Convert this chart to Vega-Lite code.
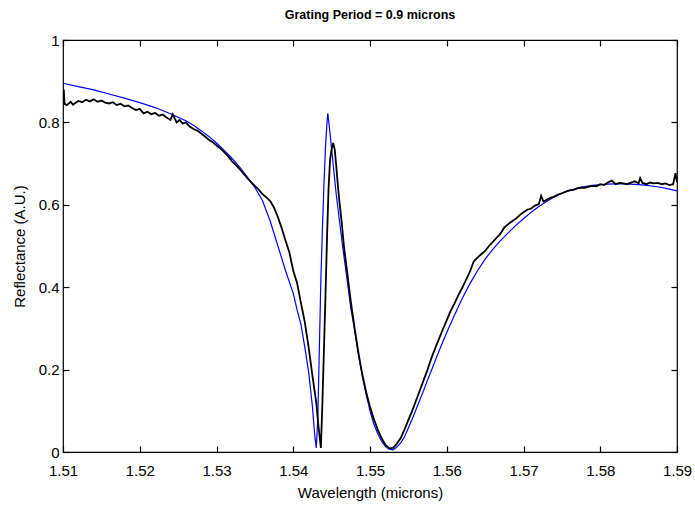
{
  "$schema": "https://vega.github.io/schema/vega-lite/v6.json",
  "width": 614,
  "height": 412,
  "autosize": {"type": "none"},
  "padding": {"left": 63, "top": 40, "right": 18, "bottom": 60},
  "background": "white",
  "config": {
    "view": {"stroke": "black", "strokeWidth": 1.2},
    "font": "Liberation Sans",
    "axis": {
      "grid": false,
      "domain": false,
      "ticks": true,
      "tickColor": "black",
      "tickWidth": 1.2,
      "tickSize": 6,
      "offset": -6,
      "labelFlush": false,
      "labelOverlap": false,
      "labelColor": "black",
      "labelFont": "Liberation Sans",
      "labelFontSize": 15,
      "titleFont": "Liberation Sans",
      "titleFontSize": 15,
      "titleFontWeight": "normal",
      "titleColor": "black",
      "zindex": 1
    }
  },
  "title": {
    "text": "Grating Period = 0.9 microns",
    "font": "Liberation Sans",
    "fontSize": 12.5,
    "fontWeight": "bold",
    "color": "black",
    "anchor": "middle",
    "baseline": "alphabetic",
    "offset": 2
  },
  "datasets": {
    "sim": [
      {"x": 1.51, "y": 0.895}, {"x": 1.512, "y": 0.887}, {"x": 1.514, "y": 0.879}, {"x": 1.516, "y": 0.869},
      {"x": 1.518, "y": 0.859}, {"x": 1.52, "y": 0.848}, {"x": 1.522, "y": 0.836}, {"x": 1.524, "y": 0.821},
      {"x": 1.526, "y": 0.804}, {"x": 1.527, "y": 0.793}, {"x": 1.528, "y": 0.78}, {"x": 1.529, "y": 0.766},
      {"x": 1.53, "y": 0.75}, {"x": 1.531, "y": 0.732}, {"x": 1.532, "y": 0.713}, {"x": 1.533, "y": 0.692},
      {"x": 1.534, "y": 0.668}, {"x": 1.535, "y": 0.642}, {"x": 1.536, "y": 0.61}, {"x": 1.537, "y": 0.56},
      {"x": 1.538, "y": 0.5}, {"x": 1.539, "y": 0.44}, {"x": 1.54, "y": 0.385}, {"x": 1.5405, "y": 0.345},
      {"x": 1.541, "y": 0.31}, {"x": 1.5415, "y": 0.255}, {"x": 1.542, "y": 0.195}, {"x": 1.5425, "y": 0.11},
      {"x": 1.5428, "y": 0.04}, {"x": 1.543, "y": 0.01}, {"x": 1.5432, "y": 0.08}, {"x": 1.5434, "y": 0.25},
      {"x": 1.5436, "y": 0.42}, {"x": 1.5438, "y": 0.54}, {"x": 1.544, "y": 0.65}, {"x": 1.5442, "y": 0.74},
      {"x": 1.5444, "y": 0.8}, {"x": 1.5445, "y": 0.822}, {"x": 1.5447, "y": 0.79}, {"x": 1.545, "y": 0.735},
      {"x": 1.5453, "y": 0.68}, {"x": 1.5456, "y": 0.625}, {"x": 1.546, "y": 0.565}, {"x": 1.5465, "y": 0.49},
      {"x": 1.547, "y": 0.42}, {"x": 1.5475, "y": 0.35}, {"x": 1.548, "y": 0.295}, {"x": 1.5485, "y": 0.235},
      {"x": 1.549, "y": 0.185}, {"x": 1.5495, "y": 0.14}, {"x": 1.55, "y": 0.1}, {"x": 1.5505, "y": 0.068},
      {"x": 1.551, "y": 0.045}, {"x": 1.5515, "y": 0.026}, {"x": 1.552, "y": 0.014}, {"x": 1.5525, "y": 0.007},
      {"x": 1.553, "y": 0.005}, {"x": 1.5535, "y": 0.012}, {"x": 1.554, "y": 0.022}, {"x": 1.5545, "y": 0.037},
      {"x": 1.555, "y": 0.058}, {"x": 1.5555, "y": 0.08}, {"x": 1.556, "y": 0.103}, {"x": 1.5565, "y": 0.127},
      {"x": 1.557, "y": 0.15}, {"x": 1.5575, "y": 0.175}, {"x": 1.558, "y": 0.198}, {"x": 1.5585, "y": 0.222},
      {"x": 1.559, "y": 0.245}, {"x": 1.5595, "y": 0.268}, {"x": 1.56, "y": 0.29}, {"x": 1.561, "y": 0.332},
      {"x": 1.562, "y": 0.372}, {"x": 1.563, "y": 0.408}, {"x": 1.564, "y": 0.44}, {"x": 1.565, "y": 0.468},
      {"x": 1.566, "y": 0.492}, {"x": 1.567, "y": 0.513}, {"x": 1.568, "y": 0.532}, {"x": 1.569, "y": 0.55},
      {"x": 1.57, "y": 0.566}, {"x": 1.571, "y": 0.582}, {"x": 1.572, "y": 0.596}, {"x": 1.573, "y": 0.608},
      {"x": 1.574, "y": 0.619}, {"x": 1.575, "y": 0.628}, {"x": 1.576, "y": 0.635}, {"x": 1.577, "y": 0.64},
      {"x": 1.578, "y": 0.644}, {"x": 1.579, "y": 0.647}, {"x": 1.58, "y": 0.649}, {"x": 1.581, "y": 0.65},
      {"x": 1.582, "y": 0.651}, {"x": 1.583, "y": 0.651}, {"x": 1.584, "y": 0.65}, {"x": 1.585, "y": 0.649},
      {"x": 1.586, "y": 0.647}, {"x": 1.587, "y": 0.645}, {"x": 1.588, "y": 0.642}, {"x": 1.589, "y": 0.638},
      {"x": 1.59, "y": 0.634}
    ],
    "meas": [
      {"x": 1.51, "y": 0.862}, {"x": 1.5101, "y": 0.88}, {"x": 1.5102, "y": 0.845}, {"x": 1.5105, "y": 0.842},
      {"x": 1.511, "y": 0.85}, {"x": 1.5113, "y": 0.843}, {"x": 1.5115, "y": 0.846}, {"x": 1.512, "y": 0.852}, {"x": 1.5125, "y": 0.849},
      {"x": 1.513, "y": 0.855}, {"x": 1.5135, "y": 0.851}, {"x": 1.514, "y": 0.856}, {"x": 1.5145, "y": 0.85},
      {"x": 1.515, "y": 0.853}, {"x": 1.5155, "y": 0.848}, {"x": 1.516, "y": 0.846}, {"x": 1.5165, "y": 0.849},
      {"x": 1.517, "y": 0.842}, {"x": 1.5175, "y": 0.845}, {"x": 1.518, "y": 0.839}, {"x": 1.5185, "y": 0.841},
      {"x": 1.519, "y": 0.835}, {"x": 1.5195, "y": 0.83}, {"x": 1.52, "y": 0.833}, {"x": 1.5205, "y": 0.822},
      {"x": 1.521, "y": 0.826}, {"x": 1.5215, "y": 0.82}, {"x": 1.522, "y": 0.823}, {"x": 1.5225, "y": 0.816},
      {"x": 1.523, "y": 0.819}, {"x": 1.5235, "y": 0.812}, {"x": 1.524, "y": 0.806}, {"x": 1.5243, "y": 0.82},
      {"x": 1.5248, "y": 0.8}, {"x": 1.5252, "y": 0.806}, {"x": 1.5256, "y": 0.797}, {"x": 1.526, "y": 0.8},
      {"x": 1.5265, "y": 0.79}, {"x": 1.527, "y": 0.784}, {"x": 1.5275, "y": 0.78}, {"x": 1.528, "y": 0.773},
      {"x": 1.5285, "y": 0.766}, {"x": 1.529, "y": 0.758}, {"x": 1.5295, "y": 0.752}, {"x": 1.53, "y": 0.744},
      {"x": 1.5305, "y": 0.737}, {"x": 1.531, "y": 0.728}, {"x": 1.5315, "y": 0.718}, {"x": 1.532, "y": 0.706},
      {"x": 1.5325, "y": 0.697}, {"x": 1.533, "y": 0.687}, {"x": 1.5335, "y": 0.676}, {"x": 1.534, "y": 0.665},
      {"x": 1.5345, "y": 0.655}, {"x": 1.535, "y": 0.646}, {"x": 1.5355, "y": 0.637}, {"x": 1.536, "y": 0.626},
      {"x": 1.5365, "y": 0.618}, {"x": 1.537, "y": 0.609}, {"x": 1.5375, "y": 0.593}, {"x": 1.538, "y": 0.57},
      {"x": 1.5385, "y": 0.543}, {"x": 1.539, "y": 0.513}, {"x": 1.5395, "y": 0.484}, {"x": 1.54, "y": 0.44},
      {"x": 1.5405, "y": 0.41}, {"x": 1.541, "y": 0.362}, {"x": 1.5415, "y": 0.316}, {"x": 1.542, "y": 0.255},
      {"x": 1.5425, "y": 0.185}, {"x": 1.543, "y": 0.12}, {"x": 1.5433, "y": 0.06}, {"x": 1.5436, "y": 0.01},
      {"x": 1.5438, "y": 0.12}, {"x": 1.544, "y": 0.25}, {"x": 1.5442, "y": 0.38}, {"x": 1.5444, "y": 0.52},
      {"x": 1.5446, "y": 0.64}, {"x": 1.5448, "y": 0.71}, {"x": 1.545, "y": 0.735}, {"x": 1.5452, "y": 0.75},
      {"x": 1.5454, "y": 0.735}, {"x": 1.5456, "y": 0.695}, {"x": 1.5458, "y": 0.65}, {"x": 1.546, "y": 0.61},
      {"x": 1.5463, "y": 0.56}, {"x": 1.5466, "y": 0.5}, {"x": 1.547, "y": 0.44}, {"x": 1.5475, "y": 0.365},
      {"x": 1.548, "y": 0.3}, {"x": 1.5485, "y": 0.24}, {"x": 1.549, "y": 0.188}, {"x": 1.5495, "y": 0.145},
      {"x": 1.55, "y": 0.11}, {"x": 1.5505, "y": 0.08}, {"x": 1.551, "y": 0.055}, {"x": 1.5515, "y": 0.034},
      {"x": 1.552, "y": 0.018}, {"x": 1.5525, "y": 0.009}, {"x": 1.553, "y": 0.01}, {"x": 1.5535, "y": 0.02},
      {"x": 1.554, "y": 0.034}, {"x": 1.5545, "y": 0.055}, {"x": 1.555, "y": 0.078}, {"x": 1.5555, "y": 0.1},
      {"x": 1.556, "y": 0.125}, {"x": 1.5565, "y": 0.15}, {"x": 1.557, "y": 0.175}, {"x": 1.5575, "y": 0.2},
      {"x": 1.558, "y": 0.228}, {"x": 1.5585, "y": 0.252}, {"x": 1.559, "y": 0.275}, {"x": 1.5595, "y": 0.298},
      {"x": 1.56, "y": 0.32}, {"x": 1.5605, "y": 0.342}, {"x": 1.561, "y": 0.36}, {"x": 1.5615, "y": 0.38},
      {"x": 1.562, "y": 0.398}, {"x": 1.5625, "y": 0.417}, {"x": 1.563, "y": 0.437}, {"x": 1.5635, "y": 0.462},
      {"x": 1.564, "y": 0.472}, {"x": 1.5645, "y": 0.48}, {"x": 1.565, "y": 0.488}, {"x": 1.5655, "y": 0.5},
      {"x": 1.566, "y": 0.51}, {"x": 1.5665, "y": 0.52}, {"x": 1.567, "y": 0.53}, {"x": 1.5675, "y": 0.545},
      {"x": 1.568, "y": 0.553}, {"x": 1.5685, "y": 0.56}, {"x": 1.569, "y": 0.566}, {"x": 1.5695, "y": 0.575},
      {"x": 1.57, "y": 0.582}, {"x": 1.5705, "y": 0.588}, {"x": 1.571, "y": 0.591}, {"x": 1.5715, "y": 0.598},
      {"x": 1.572, "y": 0.602}, {"x": 1.5723, "y": 0.622}, {"x": 1.5726, "y": 0.608}, {"x": 1.573, "y": 0.612},
      {"x": 1.5735, "y": 0.617}, {"x": 1.574, "y": 0.62}, {"x": 1.5745, "y": 0.625}, {"x": 1.575, "y": 0.628},
      {"x": 1.5755, "y": 0.632}, {"x": 1.576, "y": 0.635}, {"x": 1.5765, "y": 0.636}, {"x": 1.577, "y": 0.64},
      {"x": 1.5775, "y": 0.642}, {"x": 1.578, "y": 0.641}, {"x": 1.5785, "y": 0.644}, {"x": 1.579, "y": 0.646},
      {"x": 1.5795, "y": 0.645}, {"x": 1.58, "y": 0.65}, {"x": 1.5805, "y": 0.648}, {"x": 1.581, "y": 0.654},
      {"x": 1.5815, "y": 0.659}, {"x": 1.582, "y": 0.65}, {"x": 1.5825, "y": 0.653}, {"x": 1.583, "y": 0.652},
      {"x": 1.5835, "y": 0.65}, {"x": 1.584, "y": 0.654}, {"x": 1.5845, "y": 0.657}, {"x": 1.585, "y": 0.652},
      {"x": 1.5852, "y": 0.665}, {"x": 1.5855, "y": 0.653}, {"x": 1.586, "y": 0.65}, {"x": 1.5865, "y": 0.654},
      {"x": 1.587, "y": 0.652}, {"x": 1.5875, "y": 0.653}, {"x": 1.588, "y": 0.65}, {"x": 1.5885, "y": 0.652},
      {"x": 1.589, "y": 0.648}, {"x": 1.5895, "y": 0.65}, {"x": 1.5898, "y": 0.677}, {"x": 1.59, "y": 0.655}
    ]
  },
  "layer": [
    {
      "data": {"name": "sim"},
      "mark": {"type": "line", "color": "#0000ff", "strokeWidth": 1.2, "clip": true},
      "encoding": {
        "x": {
          "field": "x", "type": "quantitative",
          "scale": {"domain": [1.51, 1.59], "nice": false, "zero": false},
          "axis": {
            "orient": "bottom",
            "values": [1.51, 1.52, 1.53, 1.54, 1.55, 1.56, 1.57, 1.58, 1.59],
            "format": ".2f",
            "labelPadding": 11,
            "title": "Wavelength (microns)",
            "titlePadding": 7
          }
        },
        "y": {
          "field": "y", "type": "quantitative",
          "scale": {"domain": [0, 1], "nice": false, "zero": false},
          "axis": {
            "orient": "left",
            "values": [0, 0.2, 0.4, 0.6, 0.8, 1],
            "format": "~g",
            "labelPadding": 4,
            "title": "Reflectance (A.U.)",
            "titlePadding": 11
          }
        }
      }
    },
    {
      "data": {"name": "meas"},
      "mark": {"type": "line", "color": "black", "strokeWidth": 1.8, "clip": true},
      "encoding": {
        "x": {
          "field": "x", "type": "quantitative",
          "axis": {
            "orient": "top",
            "values": [1.51, 1.52, 1.53, 1.54, 1.55, 1.56, 1.57, 1.58, 1.59],
            "labels": false,
            "title": null
          }
        },
        "y": {
          "field": "y", "type": "quantitative",
          "axis": {
            "orient": "right",
            "values": [0, 0.2, 0.4, 0.6, 0.8, 1],
            "labels": false,
            "title": null
          }
        }
      }
    }
  ],
  "resolve": {"axis": {"x": "independent", "y": "independent"}}
}
